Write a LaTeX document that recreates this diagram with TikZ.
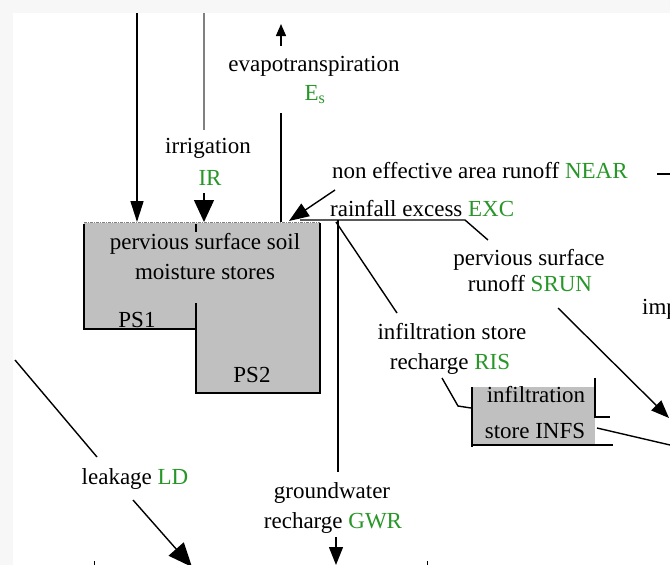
\documentclass[tikz,border=0pt]{standalone}
\usepackage{fontspec}
\setmainfont{Liberation Serif}
\usetikzlibrary{arrows.meta}
\definecolor{fluxgreen}{RGB}{40,150,40}
\definecolor{storegray}{RGB}{192,192,192}
\definecolor{irrgray}{RGB}{128,128,128}
\begin{document}
\begin{tikzpicture}[x=1pt,y=-1pt,
  lbl/.style={font=\fontsize{23}{27}\selectfont, inner sep=0pt, anchor=base},
  lblw/.style={lbl, anchor=base west},
  flow/.style={line width=1.4pt, draw=black},
  thinflow/.style={line width=1.1pt, draw=black},
  edge/.style={line width=1.6pt, draw=black},
  sym/.style={text=fluxgreen}]
\useasboundingbox (0,0) rectangle (670,565);
\fill[gray!6] (0,0) rectangle (670,565);
\fill[white] (13,13) rectangle (670,565);

% ---------- pervious surface soil moisture stores (PS1 / PS2) ----------
\fill[storegray] (84,223) -- (320,223) -- (320,393) -- (196,393) -- (196,329) -- (84,329) -- cycle;
\draw[edge] (84,224) -- (84,329) -- (196,329);
\draw[edge] (196,303) -- (196,393) -- (320,393) -- (320,223);
\draw[irrgray, line width=0.9pt, dash pattern=on 3pt off 1pt on 1pt off 1pt] (84,222) -- (320,222);
\draw[line width=1.2pt] (196,224) -- (196,232);
\node[lbl] (pss1) at (205,249) {pervious surface soil};
\node[lbl] (pss2) at (205,279) {moisture stores};
\node[lbl] (ps1) at (137,327) {PS1};
\node[lbl] (ps2) at (252,382) {PS2};

% ---------- infiltration store ----------
\fill[storegray] (472,387) rectangle (595,445);
\draw[edge] (472,387) -- (472,447);
\draw[edge] (471,445) -- (613,445);
\draw[thinflow] (595,378) -- (595,417) -- (610,417);
\node[lbl] (infs1) at (536,402) {infiltration};
\node[lbl] (infs2) at (535,438) {store INFS};

% ---------- rainfall onto the stores ----------
\coordinate (rainTop) at (137,13);
\coordinate (rainIn) at (137,222);
\draw[edge,-{Triangle[length=21pt,width=13pt]}] (rainTop) -- (rainIn);

% ---------- irrigation ----------
\coordinate (irrTop) at (204,13);
\coordinate (irrEnd) at (204,130);
\draw[irrgray, line width=1.6pt] (irrTop) -- (irrEnd);
\node[lbl] (irr) at (208,153) {irrigation};
\node[lbl,sym] (irrSym) at (210,185) {IR};
\coordinate (irrA) at (204,193);
\coordinate (irrB) at (204,222);
\draw[flow,-{Triangle[length=22pt,width=20pt]}] (irrA) -- (irrB);

% ---------- evapotranspiration ----------
\coordinate (evA) at (281,46);
\coordinate (evB) at (281,24);
\draw[flow,-{Triangle[length=12pt,width=10pt]}] (evA) -- (evB);
\node[lbl] (evap) at (314,71) {evapotranspiration};
\node[lbl,sym] (evapSym) at (315,100) {E\textsubscript{s}};
\coordinate (evLow) at (281,113);
\coordinate (evBox) at (281,222);
\draw[thinflow] (evLow) -- (evBox);

% ---------- non effective area runoff ----------
\node[lblw] (near) at (332,178) {non effective area runoff \textcolor{fluxgreen}{NEAR}};
\coordinate (nearA) at (335,190);
\coordinate (nearB) at (289,221);
\draw[flow,-{Triangle[length=20pt,width=15pt]}] (nearA) -- (nearB);
\coordinate (nearOutA) at (657,174);
\coordinate (nearOutB) at (670,174);
\draw[flow] (nearOutA) -- (nearOutB);

% ---------- rainfall excess ----------
\node[lblw] (exc) at (330,216) {rainfall excess \textcolor{fluxgreen}{EXC}};
\coordinate (excA) at (300,220);
\coordinate (excB) at (465,220);
\coordinate (excC) at (488,240);
\draw[flow] (excA) -- (excB) -- (excC);

% ---------- pervious surface runoff ----------
\node[lbl] (srun1) at (529,265) {pervious surface};
\node[lbl] (srun2) at (530,291) {runoff \textcolor{fluxgreen}{SRUN}};
\coordinate (srunA) at (558,308);
\coordinate (srunB) at (669,418);
\draw[flow,-{Triangle[length=18pt,width=14pt]}] (srunA) -- (srunB);
\node[lblw] (imp) at (642,314) {imp};

% ---------- infiltration store recharge ----------
\coordinate (risA) at (336,222);
\coordinate (risB) at (397,313);
\draw[flow] (risA) -- (risB);
\node[lbl] (ris1) at (452,339) {infiltration store};
\node[lbl] (ris2) at (450,369) {recharge \textcolor{fluxgreen}{RIS}};
\coordinate (risC) at (442,378);
\coordinate (risD) at (458,406);
\coordinate (risE) at (471,408);
\draw[flow] (risC) -- (risD) -- (risE);

% ---------- infiltration store outflow ----------
\coordinate (infA) at (597,428);
\coordinate (infB) at (670,445);
\draw[flow] (infA) -- (infB);

% ---------- groundwater recharge ----------
\coordinate (gwA) at (338,220);
\coordinate (gwB) at (338,472);
\draw[flow] (gwA) -- (gwB);
\node[lbl] (gw1) at (332,498) {groundwater};
\node[lbl] (gw2) at (333,528) {recharge \textcolor{fluxgreen}{GWR}};
\coordinate (gwC) at (336,537);
\coordinate (gwD) at (336,565);
\draw[flow,-{Triangle[length=18pt,width=14pt]}] (gwC) -- (gwD);

% ---------- leakage ----------
\coordinate (ldA) at (15,360);
\coordinate (ldB) at (97,457);
\draw[flow] (ldA) -- (ldB);
\node[lbl] (ld) at (135,484) {leakage \textcolor{fluxgreen}{LD}};
\coordinate (ldC) at (133,500);
\coordinate (ldD) at (192,567);
\draw[flow,-{Triangle[length=24pt,width=20pt]}] (ldC) -- (ldD);

% ---------- edges of items below ----------
\draw[line width=1pt] (94,561) -- (94,565);
\draw[line width=1pt] (427,561) -- (427,565);
\end{tikzpicture}
\end{document}
